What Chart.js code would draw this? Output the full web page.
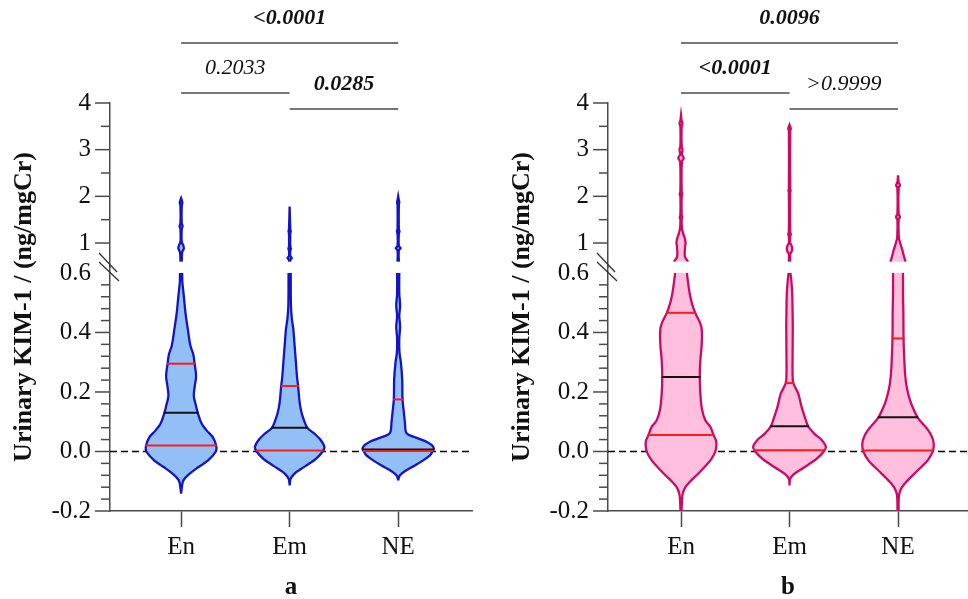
<!DOCTYPE html>
<html>
<head>
<meta charset="utf-8">
<script src="https://cdn.jsdelivr.net/npm/chart.js@4.4.1/dist/chart.umd.min.js"></script>
<style>
  html, body { margin: 0; padding: 0; background: #fff; }
  #wrap { position: relative; width: 968px; height: 599px; overflow: hidden; }
  canvas { position: absolute; top: 0; }
  #ca { left: 0; }
  #cb { left: 498px; }
</style>
</head>
<body>
<div id="wrap">
  <canvas id="ca" width="498" height="599"></canvas>
  <canvas id="cb" width="470" height="599"></canvas>
</div>
<script>
const groups = ["En", "Em", "NE"];
const lowTicks = [-0.2, 0, 0.2, 0.4, 0.6];
const highTicks = [1, 2, 3, 4];
const breakAt = 0.6;

// violin outlines: [value, half width in category units]
const aEnLow = [[-0.142, 0], [-0.12, 0.007], [-0.097, 0.021], [-0.075, 0.077], [-0.053, 0.157], [-0.03, 0.249], [0, 0.32], [0.019, 0.323], [0.048, 0.292], [0.071, 0.235], [0.093, 0.19], [0.128, 0.155], [0.161, 0.132], [0.187, 0.117], [0.22, 0.126], [0.254, 0.138], [0.296, 0.124], [0.327, 0.112], [0.355, 0.086], [0.411, 0.062], [0.467, 0.04], [0.523, 0.025], [0.568, 0.012], [0.6, 0.01]];
const aEnHigh = [[0.6, 0.006], [0.8, 0.01], [0.88, 0.025], [0.95, 0.02], [1.02, 0.006], [1.3, 0.006], [1.36, 0.014], [1.42, 0.006], [1.8, 0.006], [1.86, 0.012], [1.92, 0.006], [1.96, 0]];
const aEmLow = [[-0.114, 0], [-0.092, 0.009], [-0.075, 0.043], [-0.059, 0.104], [-0.042, 0.175], [-0.025, 0.242], [0, 0.304], [0.016, 0.32], [0.038, 0.288], [0.06, 0.228], [0.079, 0.164], [0.097, 0.14], [0.13, 0.11], [0.165, 0.092], [0.22, 0.078], [0.25, 0.068], [0.299, 0.058], [0.355, 0.046], [0.411, 0.034], [0.445, 0.021], [0.49, 0.012], [0.6, 0.01]];
const aEmHigh = [[0.6, 0.006], [0.64, 0.006], [0.68, 0.02], [0.72, 0.006], [0.84, 0.006], [0.88, 0.012], [0.92, 0.006], [1.2, 0.006], [1.25, 0.01], [1.3, 0.006], [1.78, 0]];
const aNeLow = [[-0.097, 0], [-0.08, 0.016], [-0.064, 0.071], [-0.047, 0.154], [-0.03, 0.23], [-0.013, 0.292], [0, 0.316], [0.01, 0.329], [0.022, 0.307], [0.033, 0.261], [0.044, 0.184], [0.056, 0.095], [0.067, 0.07], [0.097, 0.062], [0.132, 0.052], [0.175, 0.04], [0.243, 0.037], [0.299, 0.025], [0.333, 0.012], [0.38, 0.01], [0.42, 0.018], [0.455, 0.01], [0.49, 0.018], [0.53, 0.01], [0.6, 0.01]];
const aNeHigh = [[0.6, 0.006], [0.84, 0.006], [0.89, 0.022], [0.94, 0.006], [1.2, 0.006], [1.25, 0.012], [1.3, 0.006], [1.82, 0.006], [1.87, 0.01], [1.92, 0.006], [2.0, 0]];

const bEnLow = [[-0.2, 0.005], [-0.164, 0.009], [-0.142, 0.016], [-0.12, 0.04], [-0.097, 0.095], [-0.075, 0.157], [-0.053, 0.215], [-0.03, 0.27], [0, 0.316], [0.033, 0.325], [0.055, 0.3], [0.083, 0.27], [0.105, 0.224], [0.14, 0.194], [0.195, 0.178], [0.253, 0.173], [0.307, 0.178], [0.363, 0.191], [0.42, 0.187], [0.466, 0.131], [0.497, 0.101], [0.531, 0.08], [0.576, 0.062], [0.6, 0.055]];
const bEnHigh = [[0.6, 0.062], [0.7, 0.037], [0.8, 0.034], [0.92, 0.037], [1.0, 0.042], [1.1, 0.035], [1.2, 0.02], [1.3, 0.01], [1.42, 0.006], [1.5, 0.006], [1.55, 0.012], [1.6, 0.006], [2.0, 0.006], [2.05, 0.012], [2.1, 0.006], [2.74, 0.008], [2.82, 0.025], [2.9, 0.008], [3.0, 0.014], [3.08, 0.006], [3.5, 0.006], [3.56, 0.014], [3.62, 0.006], [3.74, 0]];
const bEmLow = [[-0.114, 0], [-0.092, 0.006], [-0.075, 0.043], [-0.059, 0.111], [-0.042, 0.182], [-0.025, 0.249], [0, 0.316], [0.016, 0.335], [0.038, 0.298], [0.06, 0.228], [0.085, 0.172], [0.116, 0.141], [0.15, 0.111], [0.195, 0.08], [0.23, 0.035], [0.262, 0.028], [0.307, 0.028], [0.42, 0.03], [0.475, 0.028], [0.531, 0.025], [0.576, 0.016], [0.6, 0.009]];
const bEmHigh = [[0.6, 0.006], [0.76, 0.006], [0.82, 0.02], [0.88, 0.025], [0.95, 0.018], [1.0, 0.006], [1.14, 0.006], [1.19, 0.012], [1.24, 0.006], [2.08, 0.006], [2.12, 0.01], [2.16, 0.006], [3.4, 0.006], [3.45, 0.012], [3.53, 0]];
const bNeLow = [[-0.2, 0.005], [-0.164, 0.006], [-0.142, 0.012], [-0.12, 0.037], [-0.097, 0.089], [-0.075, 0.15], [-0.053, 0.212], [-0.03, 0.274], [0, 0.32], [0.027, 0.329], [0.049, 0.313], [0.071, 0.279], [0.093, 0.228], [0.115, 0.18], [0.14, 0.145], [0.172, 0.111], [0.217, 0.08], [0.262, 0.065], [0.307, 0.058], [0.38, 0.051], [0.475, 0.049], [0.531, 0.046], [0.6, 0.046]];
const bNeHigh = [[0.6, 0.069], [0.71, 0.055], [0.85, 0.04], [0.99, 0.021], [1.1, 0.009], [1.2, 0.006], [1.5, 0.006], [1.56, 0.018], [1.62, 0.006], [2.18, 0.006], [2.24, 0.018], [2.3, 0.006], [2.45, 0]];

// quartiles and medians
const aQ1 = [0.02, 0.003, 0.002];
const aMed = [0.13, 0.08, 0.007];
const aQ3 = [0.295, 0.22, 0.175];
const bQ1 = [0.055, 0.004, 0.003];
const bMed = [0.25, 0.085, 0.115];
const bQ3 = [0.466, 0.23, 0.38];

// comparisons
const pairs = [[0, 2], [0, 1], [1, 2]];
const aP = ["<0.0001", "0.2033", "0.0285"];
const aPBold = [true, false, true];
const bP = ["0.0096", "<0.0001", ">0.9999"];
const bPBold = [true, true, false];

const serif = "'Liberation Serif', 'Times New Roman', serif";
const axisCol = "#4a4a4a";
const lowMin = -0.2, lowMax = 0.62, highMin = 0.486, highMax = 4;
Chart.defaults.font.family = serif;
Chart.defaults.color = "#111";

// closed outline, optionally carried past the cut so the cut stays open
function outline(c, prof, from, to) {
  const rows = prof.slice();
  if (from !== undefined) rows.unshift([from, rows[0][1]]);
  if (to !== undefined) rows.push([to, rows[rows.length - 1][1]]);
  const left = rows.map(([v, w]) => ({x: c - w, y: v}));
  const right = rows.slice().reverse().map(([v, w]) => ({x: c + w, y: v}));
  const n = left.length - 1;
  return [left[0], ...left, left[n], right[0], ...right, right[n], left[0]];
}

function widthAt(prof, v) {
  for (let i = 1; i < prof.length; i++) {
    if (v <= prof[i][0]) {
      const [v0, w0] = prof[i - 1], [v1, w1] = prof[i];
      return w0 + (w1 - w0) * (v - v0) / (v1 - v0);
    }
  }
  return prof[prof.length - 1][1];
}

function tickValues(from, to, step) {
  const out = [];
  for (let v = from; v <= to + 1e-9; v += step) out.push(Math.round(v * 1000) / 1000);
  return out;
}
const isIn = (list, v) => list.some(t => Math.abs(t - v) < 1e-6);

function annotations(pLabels, pBold) {
  return {
    id: "annotations",
    afterDatasetsDraw(chart) {
      // white band where the axis is broken
      const {ctx, chartArea: area, scales} = chart;
      const y0 = scales.yHigh.getPixelForValue(breakAt);
      const y1 = scales.yLow.getPixelForValue(breakAt);
      ctx.save();
      ctx.fillStyle = "#fff";
      ctx.fillRect(area.left + 1, y0, area.right - area.left - 1, y1 - y0);
      ctx.restore();
    },
    afterDraw(chart) {
      const {ctx, chartArea: area, scales} = chart;
      const x = scales.x;
      ctx.save();
      ctx.strokeStyle = axisCol;
      ctx.lineWidth = 1.5;
      [scales.yLow, scales.yHigh].forEach(s => {
        s.ticks.forEach(t => {
          if (s === scales.yLow && t.value > breakAt - 0.01) return;
          const y = s.getPixelForValue(t.value);
          const len = t.label ? 15 : 9;
          ctx.beginPath();
          ctx.moveTo(area.left - len, y);
          ctx.lineTo(area.left, y);
          ctx.stroke();
        });
      });

      // axis break marks
      const b = scales.yLow.top;
      ctx.strokeStyle = "#333";
      ctx.lineWidth = 1.3;
      [[-11, -14, 7, 5], [-11, -5, 9, 14]].forEach(([x0, y0, x1, y1]) => {
        ctx.beginPath();
        ctx.moveTo(area.left + x0, b + y0);
        ctx.lineTo(area.left + x1, b + y1);
        ctx.stroke();
      });

      // comparison brackets
      const levels = [area.top - 60, area.top - 10, area.top + 6];
      ctx.fillStyle = "#111";
      ctx.textAlign = "center";
      ctx.textBaseline = "middle";
      pairs.forEach(([i, j], k) => {
        const x0 = x.getPixelForValue(i), x1 = x.getPixelForValue(j);
        ctx.strokeStyle = axisCol;
        ctx.lineWidth = 1.5;
        ctx.beginPath();
        ctx.moveTo(x0, levels[k]);
        ctx.lineTo(x1, levels[k]);
        ctx.stroke();
        ctx.font = (pBold[k] ? "italic bold " : "italic ") + "22px " + serif;
        ctx.fillText(pLabels[k], (x0 + x1) / 2, levels[k] - 25);
      });

      ctx.translate(area.left - 86, (area.top + area.bottom) / 2);
      ctx.rotate(-Math.PI / 2);
      ctx.font = "bold 26px " + serif;
      ctx.fillText("Urinary KIM-1 / (ng/mgCr)", 0, 0);
      ctx.restore();
    }
  };
}

function makePanel(id, lows, highs, q1, med, q3, stroke, fill, pLabels, pBold, label, xmin, xmax, padRight) {
  const datasets = [];
  datasets.push({
    data: [{x: xmin, y: 0}, {x: xmax, y: 0}], yAxisID: "yLow",
    borderColor: "#000", borderWidth: 1.5, borderDash: [7, 4], pointRadius: 0, order: 3
  });
  lows.forEach((p, i) => datasets.push({
    data: outline(i, p, undefined, lowMax), yAxisID: "yLow", fill: "shape",
    backgroundColor: fill, borderColor: stroke, borderWidth: 2.3, tension: 0.35, pointRadius: 0, order: 2
  }));
  highs.forEach((p, i) => datasets.push({
    data: outline(i, p, highMin, undefined), yAxisID: "yHigh", fill: "shape",
    backgroundColor: fill, borderColor: stroke, borderWidth: 2.3, tension: 0.35, pointRadius: 0, order: 2
  }));
  [[q1, "#ff1a1a"], [med, "#111"], [q3, "#ff1a1a"]].forEach(([vals, col]) => {
    vals.forEach((v, i) => {
      const w = widthAt(lows[i], v) + 0.006;
      datasets.push({
        data: [{x: i - w, y: v}, {x: i + w, y: v}], yAxisID: "yLow",
        borderColor: col, borderWidth: 2, pointRadius: 0, order: 1
      });
    });
  });

  const lowVals = tickValues(lowMin, breakAt, 0.04);
  const highVals = tickValues(1, highMax, 0.5);

  return new Chart(document.getElementById(id), {
    type: "line",
    data: {datasets},
    options: {
      responsive: false,
      animation: false,
      layout: {padding: {top: 103, left: 0, right: padRight, bottom: 0}},
      plugins: {legend: {display: false}, tooltip: {enabled: false}},
      scales: {
        x: {
          type: "linear", min: xmin, max: xmax,
          afterBuildTicks: s => { s.ticks = groups.map((g, i) => ({value: i})); },
          ticks: {callback: v => groups[v], font: {size: 25}, color: "#111", padding: 5, maxRotation: 0, autoSkip: false},
          grid: {drawOnChartArea: false, tickLength: 16, tickColor: axisCol, tickWidth: 1.5},
          border: {color: axisCol, width: 1.5},
          title: {display: true, text: label, color: "#111", font: {size: 25, weight: "bold", lineHeight: 0.9}, padding: {top: 0, bottom: 0}},
          afterFit: s => { s.height = 88; }
        },
        yLow: {
          type: "linear", position: "left", stack: "v", stackWeight: 244, weight: 1,
          min: lowMin, max: lowMax,
          afterBuildTicks: s => { s.ticks = lowVals.map(v => ({value: v})); },
          ticks: {callback: v => isIn(lowTicks, v) ? v.toFixed(1) : "", font: {size: 25}, color: "#111", padding: 4, autoSkip: false},
          grid: {display: false, drawTicks: true, tickLength: 15},
          border: {color: axisCol, width: 1.5},
          afterFit: s => { s.width = 110; }
        },
        yHigh: {
          type: "linear", position: "left", stack: "v", stackWeight: 164, weight: 2,
          min: highMin, max: highMax,
          afterBuildTicks: s => { s.ticks = highVals.map(v => ({value: v})); },
          ticks: {callback: v => isIn(highTicks, v) ? String(v) : "", font: {size: 25}, color: "#111", padding: 4, autoSkip: false},
          grid: {display: false, drawTicks: true, tickLength: 15},
          border: {color: axisCol, width: 1.5},
          afterFit: s => { s.width = 110; }
        }
      }
    },
    plugins: [annotations(pLabels, pBold)]
  });
}

makePanel("ca", [aEnLow, aEmLow, aNeLow], [aEnHigh, aEmHigh, aNeHigh], aQ1, aMed, aQ3,
  "#1414c4", "#92c0f6", aP, aPBold, "a", -0.655, 2.68, 26);
makePanel("cb", [bEnLow, bEmLow, bNeLow], [bEnHigh, bEmHigh, bNeHigh], bQ1, bMed, bQ3,
  "#cc0a64", "#ffbfdd", bP, bPBold, "b", -0.673, 2.645, 0);
</script>
</body>
</html>
